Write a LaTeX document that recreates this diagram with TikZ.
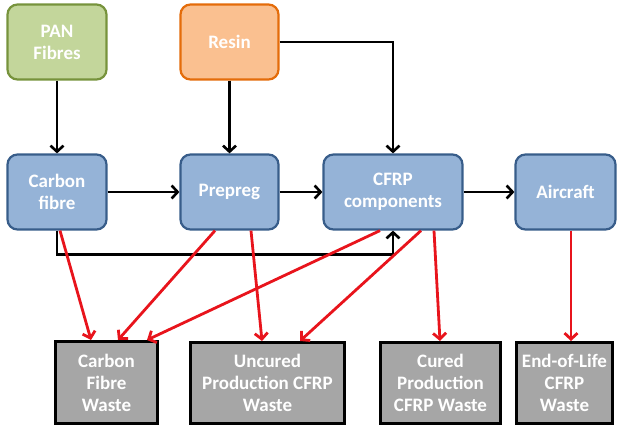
\documentclass[tikz,border=0pt]{standalone}
\usepackage{fontspec}
\setmainfont{Carlito}
\usetikzlibrary{arrows.meta,calc}
\definecolor{pangreen}{HTML}{C3D69B}
\definecolor{pangreenb}{HTML}{77933C}
\definecolor{resinor}{HTML}{FAC090}
\definecolor{resinorb}{HTML}{E46C0A}
\definecolor{procblue}{HTML}{95B3D7}
\definecolor{procblueb}{HTML}{385D8A}
\definecolor{wastegrey}{HTML}{A6A6A6}
\definecolor{wred}{HTML}{E8141C}
\tikzset{
  box/.style={rounded corners=10pt, line width=2.2pt, align=center, text=white,
    font=\fontsize{19}{22}\selectfont\bfseries, inner sep=2pt},
  green/.style={box, fill=pangreen, draw=pangreenb},
  orange/.style={box, fill=resinor, draw=resinorb},
  proc/.style={box, fill=procblue, draw=procblueb},
  waste/.style={draw=black, line width=3pt, fill=wastegrey, align=center, text=white,
    font=\fontsize{19}{22}\selectfont\bfseries, inner sep=2pt},
  flow/.style={draw=black, line width=2.6pt, -{Straight Barb[length=6pt,width=13pt,line width=2.6pt]}},
  wflow/.style={draw=wred, line width=2.8pt, -{Straight Barb[length=6pt,width=13pt,line width=2.8pt]}},
}
\begin{document}
\begin{tikzpicture}[x=1pt,y=-1pt]
\useasboundingbox (0,0) rectangle (621,429);
\node[green, minimum width=99pt, minimum height=75pt] (pan) at (57,42) {PAN\\Fibres};
\node[orange, minimum width=98pt, minimum height=75pt] (resin) at (229.5,42) {Resin};
\node[proc, minimum width=99pt, minimum height=75pt] (cf) at (57,192) {Carbon\\fibre};
\node[proc, minimum width=98pt, minimum height=75pt] (pp) at (229.5,192) {Prepreg};
\node[proc, minimum width=139pt, minimum height=75pt] (cfrp) at (393,192) {CFRP\\components};
\node[proc, minimum width=100pt, minimum height=75pt] (air) at (565.5,192) {Aircraft};
\node[waste, minimum width=102pt, minimum height=82pt] (cfw) at (106.5,382.5) {Carbon\\Fibre\\Waste};
\node[waste, minimum width=154pt, minimum height=81pt] (unc) at (267.5,383) {Uncured\\Production CFRP\\Waste};
\node[waste, minimum width=120pt, minimum height=81pt] (cur) at (440.5,383) {Cured\\Production\\CFRP Waste};
\node[waste, minimum width=96pt, minimum height=81pt] (eol) at (564.5,383) {End-of-Life\\CFRP\\Waste};
% black flows
\draw[flow] (pan.south) -- (cf.north);
\draw[flow] (resin.south) -- (pp.north);
\draw[flow] (resin.east) -| (cfrp.north);
\draw[flow] (cf.east) -- (pp.west);
\draw[flow] (pp.east) -- (cfrp.west);
\draw[flow] (cfrp.east) -- (air.west);
\draw[flow] (cf.south) -- ++(0,24) -| (cfrp.south);
% red waste flows
\draw[wflow] ([xshift=3pt]cf.south) -- ([xshift=-15.5pt]cfw.north);
\draw[wflow] ([xshift=-14.5pt]pp.south) -- ([xshift=11.5pt]cfw.north);
\draw[wflow] ([xshift=-13pt]cfrp.south) -- ([xshift=40.5pt]cfw.north);
\draw[wflow] ([xshift=21.5pt]pp.south) -- ([xshift=-5.5pt]unc.north);
\draw[wflow] ([xshift=28pt]cfrp.south) -- ([xshift=32.5pt]unc.north);
\draw[wflow] ([xshift=41pt]cfrp.south) -- ([xshift=-0.5pt]cur.north);
\draw[wflow] ([xshift=5.5pt]air.south) -- ([xshift=6.5pt]eol.north);
\end{tikzpicture}
\end{document}
